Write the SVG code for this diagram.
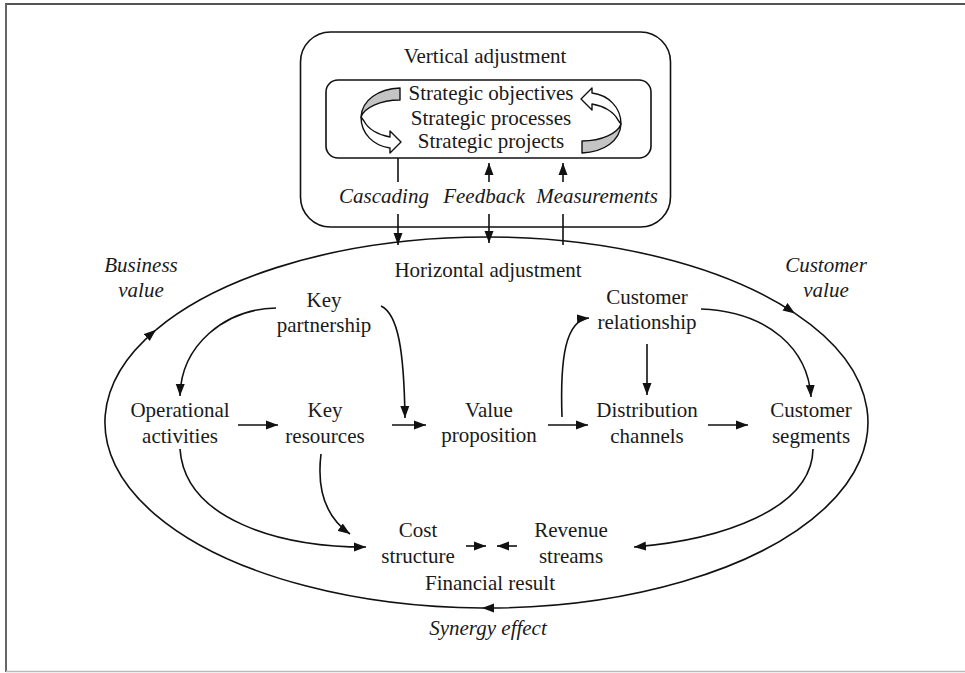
<svg xmlns="http://www.w3.org/2000/svg" xmlns:xlink="http://www.w3.org/1999/xlink" width="965" height="673" viewBox="0 0 965 673">
<defs>
<style>
text{font-family:'Liberation Serif','Times New Roman',Tinos,'DejaVu Serif',serif;font-size:21px;fill:#1a1a1a;text-anchor:middle}
.it{font-style:italic}
.ln{fill:none;stroke:#111;stroke-width:1.6}
.arr{marker-end:url(#ah)}
</style>
<marker id="ah" markerUnits="userSpaceOnUse" markerWidth="13" markerHeight="10" refX="12" refY="5" orient="auto">
<path d="M0,0.5 L12,5 L0,9.5 Z" fill="#111"/>
</marker>
<g id="ribbon">
<path d="M400,88 C378,89 362,100 361,117 C364,108 380,100 400,100 Z" fill="#c4c4c4" stroke="#111" stroke-width="1.4" stroke-linejoin="round"/>
<path d="M361,117 C361,134 374,146 390,148 L390,153 L401,142 L390,131 L390,137 C378,135 368,129 364,121 Z" fill="#fff" stroke="#111" stroke-width="1.4" stroke-linejoin="round"/>
</g>
</defs>
<rect width="965" height="673" fill="#fff"/>
<g id="frame">
<line x1="5" y1="4" x2="965" y2="4" stroke="#555" stroke-width="2"/>
<line x1="6" y1="4" x2="6" y2="672" stroke="#666" stroke-width="2"/>
<line x1="6" y1="671.5" x2="965" y2="671.5" stroke="#bbb" stroke-width="1.5"/>
</g>
<g id="vertical-box" font-family="Liberation Serif, serif">
<rect x="300.5" y="32" width="370" height="195" rx="30" class="ln"/>
<text x="485" y="63">Vertical adjustment</text>
</g>
<g id="strategic-box">
<rect x="326" y="80" width="325" height="78" rx="12" class="ln"/>
<text x="491" y="100">Strategic objectives</text>
<text x="491" y="125">Strategic processes</text>
<text x="491" y="148">Strategic projects</text>
<use xlink:href="#ribbon"/>
<use xlink:href="#ribbon" transform="rotate(180 491 120.5)"/>
</g>
<g id="labels">
<text class="it" x="384" y="203">Cascading</text>
<text class="it" x="484" y="203">Feedback</text>
<text class="it" x="597" y="203">Measurements</text>
<text class="it" x="141" y="272">Business</text>
<text class="it" x="141" y="297">value</text>
<text class="it" x="826" y="272">Customer</text>
<text class="it" x="826" y="297">value</text>
<text class="it" x="488" y="635">Synergy effect</text>
</g>
<g id="horizontal"><text x="488" y="277">Horizontal adjustment</text></g>
<g id="key-partnership"><text x="324" y="307">Key</text><text x="324" y="332">partnership</text></g>
<g id="customer-relationship"><text x="647" y="304">Customer</text><text x="647" y="329">relationship</text></g>
<g id="operational-activities"><text x="180" y="417">Operational</text><text x="180" y="443">activities</text></g>
<g id="key-resources"><text x="325" y="417">Key</text><text x="325" y="443">resources</text></g>
<g id="value-proposition"><text x="489" y="417">Value</text><text x="489" y="442">proposition</text></g>
<g id="distribution-channels"><text x="647" y="417">Distribution</text><text x="647" y="443">channels</text></g>
<g id="customer-segments"><text x="811" y="417">Customer</text><text x="811" y="443">segments</text></g>
<g id="cost-structure"><text x="418" y="537">Cost</text><text x="418" y="563">structure</text></g>
<g id="revenue-streams"><text x="571" y="537">Revenue</text><text x="571" y="563">streams</text></g>
<g id="financial-result"><text x="490" y="590">Financial result</text></g>
<g id="connectors">
<path class="ln arr" d="M482,608 A381.5,185.5 0 0 1 156,329.8"/>
<path class="ln arr" d="M156,329.8 A381.5,185.5 0 0 1 795,313.4"/>
<path class="ln arr" d="M795,313.4 A381.5,185.5 0 0 1 482,608"/>
<line class="ln" x1="398" y1="158" x2="398" y2="182"/>
<path class="ln arr" d="M489,182 V163"/>
<path class="ln arr" d="M563,182 V163"/>
<path class="ln arr" d="M398,214 V245"/>
<path class="ln arr" d="M489,214 V243"/>
<line class="ln" x1="563" y1="214" x2="563" y2="245"/>
<path class="ln arr" d="M276,308 C225,309 181,345 180,396"/>
<path class="ln arr" d="M381,306 C398,314 404,350 405,418"/>
<path class="ln arr" d="M238,425 H278"/>
<path class="ln arr" d="M392,425 H426"/>
<path class="ln arr" d="M548,425 H588"/>
<path class="ln arr" d="M708,425 H748"/>
<path class="ln arr" d="M562,417 C560,360 565,320 589,318"/>
<path class="ln arr" d="M647,344 V395"/>
<path class="ln arr" d="M701,309 C770,312 808,350 811,397"/>
<path class="ln arr" d="M180,449 C185,520 280,547 366,547"/>
<path class="ln arr" d="M321,454 C316,495 330,520 350,534"/>
<path class="ln arr" d="M466,546 H486"/>
<path class="ln arr" d="M517,546 H497"/>
<path class="ln arr" d="M813,449 C812,510 720,540 634,547"/>
</g>
</svg>
